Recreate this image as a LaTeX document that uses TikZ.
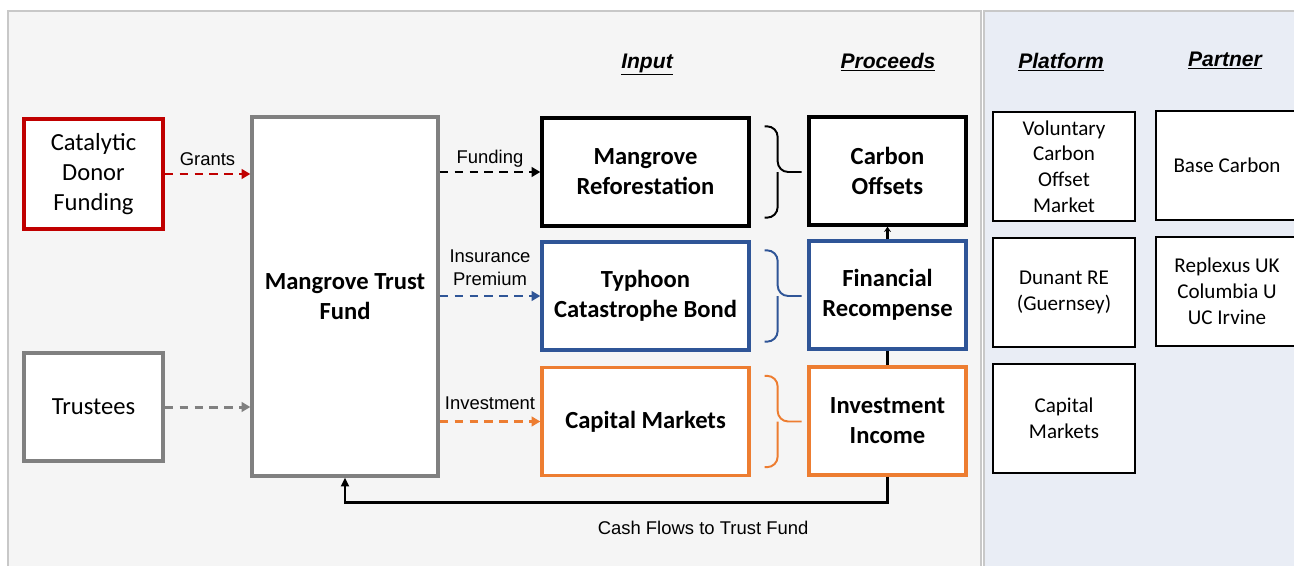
\documentclass[tikz,border=0pt]{standalone}
\usepackage{fontspec}
\setmainfont{Carlito}
\newfontfamily\arialfont{Liberation Sans}
\usepackage{xcolor}
\usetikzlibrary{arrows.meta, positioning, calc}
\definecolor{donorred}{HTML}{C00000}
\definecolor{bondblue}{HTML}{2F5597}
\definecolor{marketorange}{HTML}{ED7D31}
\definecolor{fundgray}{HTML}{808080}
\definecolor{panelgray}{HTML}{F5F5F5}
\definecolor{panelblue}{HTML}{E9EDF5}
\definecolor{edgegray}{HTML}{C8C8C8}

\begin{document}
\begin{tikzpicture}[
        x=0.02cm, y=-0.02cm,
        % Global Styles
        block/.style={rectangle, draw, line width=1.9pt, fill=white, align=center, inner sep=2pt, font=\fontsize{14}{17}\selectfont},
        inputbox/.style={block, font=\bfseries\fontsize{14}{17}\selectfont, minimum width=4.14cm, minimum height=2.16cm},
        proceedsbox/.style={block, font=\bfseries\fontsize{14}{17}\selectfont, minimum width=3.14cm, minimum height=2.16cm},
        sidebox/.style={block, line width=1.3pt, font=\fontsize{12}{14.7}\selectfont, minimum width=2.84cm, minimum height=2.18cm},
        header/.style={font=\arialfont\bfseries\itshape\fontsize{12}{14}\selectfont, anchor=base},
        flowlabel/.style={font=\arialfont\fontsize{10.5}{13}\selectfont, align=center, text=black, inner sep=2pt},
        flow/.style={line width=1.7pt, dash pattern=on 5pt off 3.5pt, -{Triangle[length=5pt, width=5.5pt]}},
        cash/.style={line width=1.4pt}
    ]

    \useasboundingbox (0,0) rectangle (1294,565);

    % --- Background panels ---
    \fill[panelgray] (8,11) rectangle (981,575);
    \draw[edgegray, line width=0.8pt] (8,575) -- (8,11) -- (981,11) -- (981,575);
    \fill[panelblue] (984,11) rectangle (1300,575);
    \draw[edgegray, line width=0.8pt] (984,575) -- (984,11) -- (1300,11);

    % --- Headers ---
    \node[header] (hinput)    at (647,68)  {\underline{Input}};
    \node[header] (hproceeds) at (888,68)  {\underline{Proceeds}};
    \node[header] (hplatform) at (1061,68) {\underline{Platform}};
    \node[header] (hpartner)  at (1225,66) {\underline{Partner}};

    % --- Column 1: Sources ---
    \node[block, draw=donorred, minimum width=2.78cm, minimum height=2.20cm] (donor) at (93.5,174) {Catalytic\\Donor\\Funding};
    \node[block, draw=fundgray, minimum width=2.78cm, minimum height=2.16cm] (trustees) at (93.5,407) {Trustees};

    % --- Column 2: Trust Fund ---
    \node[block, draw=fundgray, font=\bfseries\fontsize{14}{17}\selectfont, minimum width=3.72cm, minimum height=7.18cm] (fund) at (345,296.5) {Mangrove Trust\\Fund};

    % --- Column 3: Input ---
    \node[inputbox] (refor) at (645.5,172) {Mangrove\\Reforestation};
    \node[inputbox, draw=bondblue] (bond) at (645.5,296) {Typhoon\\Catastrophe Bond};
    \node[inputbox, draw=marketorange] (capm) at (645.5,421.5) {Capital Markets};

    % --- Column 4: Proceeds ---
    \node[proceedsbox] (carbon) at (887.5,171) {Carbon\\Offsets};
    \node[proceedsbox, draw=bondblue] (recomp) at (887.5,295) {Financial\\Recompense};
    \node[proceedsbox, draw=marketorange] (income) at (887.5,421) {Investment\\Income};

    % --- Platform & Partner ---
    \node[sidebox] (voluntary) at (1064,166.5) {Voluntary\\Carbon\\Offset\\Market};
    \node[sidebox] (dunant) at (1064,292.5) {Dunant RE\\(Guernsey)};
    \node[sidebox] (capmkt) at (1064,418.5) {Capital\\Markets};
    \node[sidebox] (basecarbon) at (1227,165.5) {Base Carbon};
    \node[sidebox] (replexus) at (1227,291.5) {Replexus UK\\Columbia U\\UC Irvine};

    % --- Funding flows ---
    \draw[flow, donorred] (donor) -- (donor -| fund.west) node[midway, above=2pt, flowlabel] {Grants};
    \draw[flow, fundgray] (trustees) -- (trustees -| fund.west);
    \draw[flow, black] (fund.east |- refor) -- (refor) node[midway, above, flowlabel] {Funding};
    \draw[flow, bondblue] (fund.east |- bond) -- (bond) node[midway, above=3pt, flowlabel] {Insurance\\Premium};
    \draw[flow, marketorange] (fund.east |- capm) -- (capm) node[midway, above=4pt, flowlabel] {Investment};

    % --- Braces ---
    \draw[black, line width=1.1pt, rounded corners=6pt] ($(refor.north east)+(14,10)$) -| ($(refor.east)+(27,0)$) -- ++(24,0)
        ($(refor.south east)+(14,-10)$) -| ($(refor.east)+(27,0)$);
    \draw[bondblue, line width=1.1pt, rounded corners=6pt] ($(bond.north east)+(14,10)$) -| ($(bond.east)+(27,0)$) -- ++(24,0)
        ($(bond.south east)+(14,-10)$) -| ($(bond.east)+(27,0)$);
    \draw[marketorange, line width=1.1pt, rounded corners=6pt] ($(capm.north east)+(14,10)$) -| ($(capm.east)+(27,0)$) -- ++(24,0)
        ($(capm.south east)+(14,-10)$) -| ($(capm.east)+(27,0)$);

    % --- Cash flows back ---
    \draw[cash, -{Stealth[length=3pt, width=4pt]}] (recomp) -- (carbon);
    \draw[cash] (recomp) -- (income);
    \draw[cash, -{Triangle[length=5pt, width=4.5pt]}] (income.south) -- ++(0,26) -| (fund.south)
        node[pos=0.17, below=8pt, flowlabel] {Cash Flows to Trust Fund};

\end{tikzpicture}
\end{document}
